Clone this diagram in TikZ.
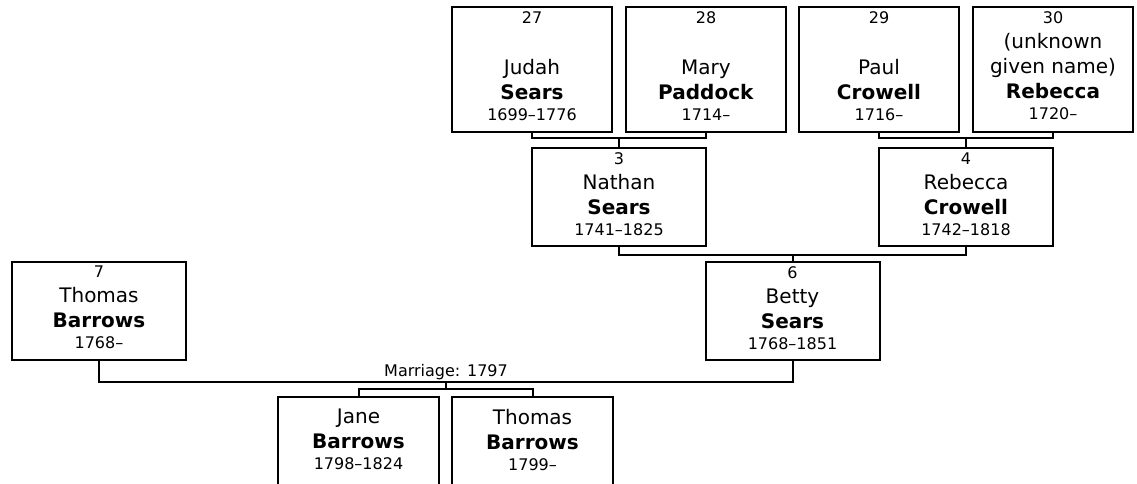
\documentclass[tikz,border=0pt]{standalone}
\usepackage{fontspec}
\setmainfont{DejaVu Sans}
\newcommand{\yrs}{\fontsize{16}{20}\selectfont}

\begin{document}
\begin{tikzpicture}[x=1pt, y=-1pt,
    person/.style = {draw=black, line width=2pt, minimum width=160pt, minimum height=98pt, inner sep=0pt, outer sep=0pt},
    wide/.style = {minimum width=174pt},
    tall/.style = {minimum height=125pt},
    info/.style = {anchor=north, align=center, inner sep=0pt, font=\fontsize{20}{25}\selectfont},
    link/.style = {line width=2pt}]
    \useasboundingbox (0,0) rectangle (1137,483);

    % great-grandparents
    \node[person, tall] (p27) at ( 532,69.5) {};
    \node[person, tall] (p28) at ( 706,69.5) {};
    \node[person, tall] (p29) at ( 879,69.5) {};
    \node[person, tall] (p30) at (1053,69.5) {};
    \node[info, yshift=-4.5pt] (t27) at (p27.north) {{\yrs 27}\\[26pt]Judah\\\textbf{Sears}\\[-4pt]{\yrs 1699--1776}};
    \node[info, yshift=-4.5pt] (t28) at (p28.north) {{\yrs 28}\\[26pt]Mary\\\textbf{Paddock}\\[-4pt]{\yrs 1714--}};
    \node[info, yshift=-4.5pt] (t29) at (p29.north) {{\yrs 29}\\[26pt]Paul\\\textbf{Crowell}\\[-4pt]{\yrs 1716--}};
    \node[info, yshift=-4.5pt] (t30) at (p30.north) {{\yrs 30}\\(unknown\\given name)\\\textbf{Rebecca}\\[-4pt]{\yrs 1720--}};

    % grandparents
    \node[person, wide] (p3) at (619,197) {};
    \node[person, wide] (p4) at (966,197) {};
    \node[info, yshift=-4.5pt] (t3) at (p3.north) {{\yrs 3}\\Nathan\\\textbf{Sears}\\[-4pt]{\yrs 1741--1825}};
    \node[info, yshift=-4.5pt] (t4) at (p4.north) {{\yrs 4}\\Rebecca\\\textbf{Crowell}\\[-4pt]{\yrs 1742--1818}};

    % parents
    \node[person, wide] (p7) at ( 99,310.5) {};
    \node[person, wide] (p6) at (792.5,310.5) {};
    \node[info, yshift=-4.5pt] (t7) at (p7.north) {{\yrs 7}\\Thomas\\\textbf{Barrows}\\[-4pt]{\yrs 1768--}};
    \node[info, yshift=-4.5pt] (t6) at (p6.north) {{\yrs 6}\\Betty\\\textbf{Sears}\\[-4pt]{\yrs 1768--1851}};

    % children
    \node[person, minimum width=161pt] (c1) at (358.5,446) {};
    \node[person, minimum width=161pt] (c2) at (532.5,446) {};
    \node[info, yshift=-12pt] (tc1) at (c1.north) {Jane\\\textbf{Barrows}\\[-4pt]{\yrs 1798--1824}};
    \node[info, yshift=-12pt] (tc2) at (c2.north) {Thomas\\\textbf{Barrows}\\[-4pt]{\yrs 1799--}};

    % junctions
    \coordinate (a1) at (619,138);
    \coordinate (a2) at (966,138);
    \coordinate (a3) at (792.5,254.5);
    \coordinate (mar) at (446,382);
    \coordinate (kids) at (446,389);

    \draw[link] (p27.south) |- (a1) -| (p28.south);
    \draw[link] (a1) -- (p3.north);
    \draw[link] (p29.south) |- (a2) -| (p30.south);
    \draw[link] (a2) -- (p4.north);
    \draw[link] (p3.south) |- (a3) -| (p4.south);
    \draw[link] (a3) -- (p6.north);
    \draw[link] (p7.south) |- (mar) -| (p6.south);
    \draw[link] (mar) -- (kids);
    \draw[link] (c1.north) |- (kids) -| (c2.north);

    \node[anchor=base, inner sep=0pt, yshift=5.3pt, font=\yrs] (wed) at (mar) {Marriage: 1797};
\end{tikzpicture}
\end{document}
